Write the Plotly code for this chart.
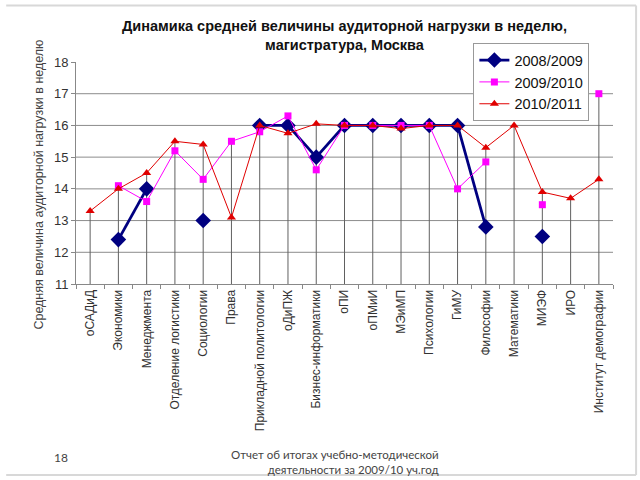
import plotly.graph_objects as go

categories = ["оСАДиД", "Экономики", "Менеджмента", "Отделение логистики", "Социологии",
              "Права", "Прикладной политологии", "оДиПЖ", "Бизнес-информатики", "оПИ",
              "оПМиИ", "МЭиМП", "Психологии", "ГиМУ", "Философии", "Математики",
              "МИЭФ", "ИРО", "Институт демографии"]

s2008 = [None, 12.4, 14.0, None, 13.0, None, 16.0, 16.0, 15.0, 16.0,
         16.0, 16.0, 16.0, 16.0, 12.8, None, 12.5, None, None]
s2009 = [None, 14.1, 13.6, 15.2, 14.3, 15.5, 15.8, 16.3, 14.6, 16.0,
         16.0, 16.0, 16.0, 14.0, 14.85, None, 13.5, None, 17.0]
s2010 = [13.3, 14.0, 14.5, 15.5, 15.4, 13.1, 16.0, 15.75, 16.05, 16.0,
         16.0, 15.9, 16.0, 16.0, 15.3, 16.0, 13.9, 13.7, 14.3]

series_names = ["2008/2009", "2009/2010", "2010/2011"]
y_min, y_max = 11, 18
grid_values = [12, 13, 14, 15, 16, 17]

title_text = "<b>Динамика средней величины аудиторной нагрузки в неделю,<br>магистратура, Москва</b>"
y_title = "Средняя величина аудиторной нагрузки в неделю"
footer_num = "18"
footer_text = "Отчет об итогах учебно-методической<br>деятельности за 2009/10 уч.год"

fig = go.Figure()

# horizontal gridlines (no line at the top value)
for v in grid_values:
    fig.add_shape(type="line", xref="paper", yref="y", x0=0, x1=1, y0=v, y1=v,
                  line=dict(color="#8c8c8c", width=1), layer="below")

# drop lines from the highest point of each category to the axis
dx, dy = [], []
for i, c in enumerate(categories):
    vals = [v for v in (s2008[i], s2009[i], s2010[i]) if v is not None]
    if vals:
        dx += [c, c, None]
        dy += [y_min, max(vals), None]
fig.add_trace(go.Scatter(x=dx, y=dy, mode="lines", line=dict(color="#606060", width=1),
                         showlegend=False, hoverinfo="skip"))

fig.add_trace(go.Scatter(x=categories, y=s2008, name=series_names[0], mode="lines+markers",
                         line=dict(color="#000080", width=2.8),
                         marker=dict(symbol="diamond", size=12, color="#000080"),
                         legendgroup="a"))
fig.add_trace(go.Scatter(x=categories, y=s2009, name=series_names[1], mode="lines+markers",
                         line=dict(color="#FF00FF", width=1),
                         marker=dict(symbol="square", size=7, color="#FF00FF"),
                         legendgroup="b"))
fig.add_trace(go.Scatter(x=categories, y=s2010, name=series_names[2], mode="lines+markers",
                         line=dict(color="#E00000", width=1),
                         marker=dict(symbol="triangle-up", size=8, color="#E00000"),
                         legendgroup="c"))

fig.update_layout(
    width=640, height=480,
    margin=dict(l=76, r=27, t=62, b=196),
    paper_bgcolor="white", plot_bgcolor="white",
    font=dict(family="Liberation Sans, Arial, sans-serif", color="#222"),
    title=dict(text=title_text, x=0.5, xref="paper", xanchor="center", y=0.935, yanchor="top",
               font=dict(size=14.5, color="#111")),
    showlegend=True,
    legend=dict(x=0.74, y=1.085, xanchor="left", yanchor="top",
                bgcolor="white", bordercolor="#999", borderwidth=1,
                font=dict(size=14.5, color="#111"), traceorder="grouped", tracegroupgap=0),
    xaxis=dict(type="category", tickangle=-90, tickson="boundaries", ticks="outside",
               ticklen=4, tickcolor="#888", showline=True, linecolor="#888", linewidth=1,
               showgrid=False, tickfont=dict(size=12, color="#333"),
               range=[-0.5, len(categories) - 0.5], fixedrange=True),
    yaxis=dict(range=[y_min, y_max], dtick=1, ticks="outside", ticklen=4, tickcolor="#888",
               showline=True, linecolor="#888", linewidth=1, showgrid=False,
               zeroline=False, tickfont=dict(size=13, color="#333"), fixedrange=True),
)

fig.add_annotation(text=y_title, textangle=-90, xref="paper", yref="paper",
                   x=-0.068, y=0.45, xanchor="center", yanchor="middle", showarrow=False,
                   font=dict(size=12.5, color="#444"))

fig.add_annotation(text=footer_num, xref="paper", yref="paper", x=-0.045, y=-0.78,
                   xanchor="left", yanchor="middle", showarrow=False,
                   font=dict(family="Lato, sans-serif", size=12, color="#444"))
fig.add_annotation(text=footer_text, xref="paper", yref="paper", x=0.68, y=-0.73,
                   xanchor="right", yanchor="top", align="right", showarrow=False,
                   font=dict(family="Lato, sans-serif", size=11.5, color="#444"))

# slide frame lines
fig.add_shape(type="line", xref="paper", yref="paper", x0=-0.13, x1=1.043, y0=1.255, y1=1.255,
              line=dict(color="#d8d8d8", width=2))
fig.add_shape(type="line", xref="paper", yref="paper", x0=1.043, x1=1.043, y0=1.255, y1=-0.86,
              line=dict(color="#d8d8d8", width=2))
fig.add_shape(type="line", xref="paper", yref="paper", x0=-0.13, x1=1.043, y0=-0.86, y1=-0.86,
              line=dict(color="#d8d8d8", width=2))

fig.write_html("out.html", config={"displayModeBar": False},
               post_script="document.body.style.margin='0px';document.body.style.overflow='hidden';")
